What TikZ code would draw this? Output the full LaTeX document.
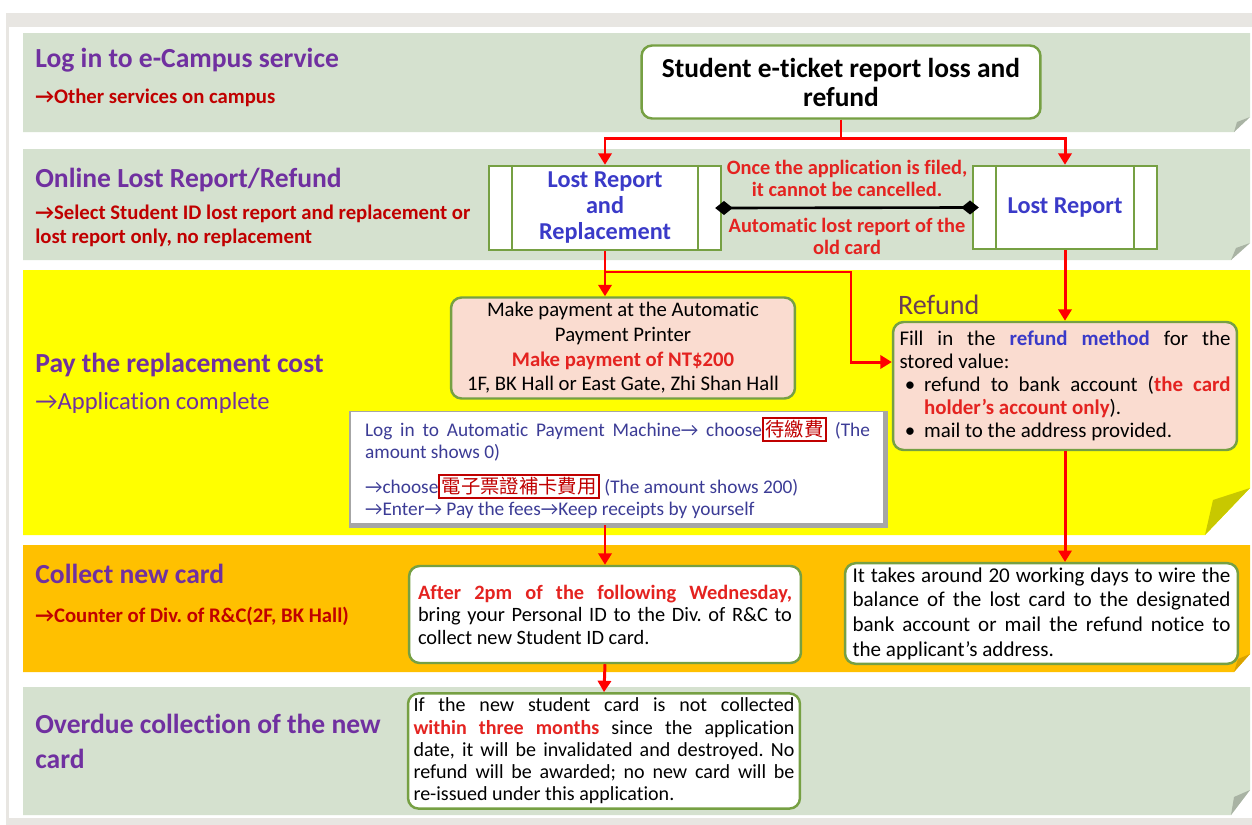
\documentclass[tikz,border=0pt]{standalone}
\usepackage{fontspec}
\setmainfont{Carlito}[Ligatures={TeX,NoCommon}]
\newfontfamily\cjkfont{Noto Sans CJK TC}
\usetikzlibrary{positioning, arrows.meta}
\frenchspacing

\definecolor{pagegray}{HTML}{E8E6E2}
\definecolor{bandgreen}{HTML}{D5E1CF}
\definecolor{foldgreen}{HTML}{A9B3A4}
\definecolor{bandyellow}{HTML}{FFFF00}
\definecolor{foldyellow}{HTML}{C8C800}
\definecolor{bandorange}{HTML}{FFC000}
\definecolor{foldorange}{HTML}{D9A300}
\definecolor{titlepurple}{HTML}{7030A0}
\definecolor{notered}{HTML}{C00000}
\definecolor{alertred}{HTML}{E42320}
\definecolor{flowred}{HTML}{FF0000}
\definecolor{reportblue}{HTML}{3A3AC8}
\definecolor{guideblue}{HTML}{3C3C96}
\definecolor{boxgreen}{HTML}{76A043}
\definecolor{peach}{HTML}{FADCD0}
\definecolor{bevelgray}{HTML}{A6A6A6}
\definecolor{refundbrown}{HTML}{6A3D55}

\setlength{\fboxsep}{1pt}
\setlength{\fboxrule}{1pt}
\newcommand{\cjkword}[1]{\fcolorbox{notered}{white}{\cjkfont\color{notered}#1}}

\tikzset{
x=0.02cm, y=-0.02cm, % one unit is one pixel of the slide
flow/.style={draw=flowred, line width=1.7pt, -{Triangle[width=7.5pt,length=6.5pt]}}, % red arrows
roundbox/.style={draw=boxgreen, line width=1.4pt, rounded corners=6pt, fill=white, inner sep=2.5pt}, % step boxes
procbox/.style={draw=boxgreen, line width=1.4pt, fill=white, text=reportblue, align=center,
  font=\bfseries\fontsize{13.8}{14.8}\selectfont}, % lost report choices
bandtitle/.style={anchor=base west, inner xsep=0pt, text=titlepurple, align=left, font=\bfseries\fontsize{15.7}{19.4}\selectfont},
bandnote/.style={anchor=base west, inner xsep=0pt, text=notered, align=left, font=\bfseries\fontsize{11.8}{13.1}\selectfont},
alertlabel/.style={text=alertred, align=center, font=\bfseries\fontsize{11.6}{12.6}\selectfont},
}

\begin{document}
\begin{tikzpicture}
    \useasboundingbox (0,0) rectangle (1252,825);
    \fill[pagegray] (6,13) rectangle (1252,825);
    \fill[white] (9,27) rectangle (1252,818);

    % bands with folded corners
    \fill[bandgreen] (23,33) -- (1250,33) -- (1250,117) -- (1234,132) -- (23,132) -- cycle;
    \fill[foldgreen] (1250,117) -- (1237,122) -- (1234,132) -- cycle;
    \fill[bandgreen] (23,149) -- (1250,149) -- (1250,243) -- (1231,260) -- (23,260) -- cycle;
    \fill[foldgreen] (1250,243) -- (1236,248) -- (1231,260) -- cycle;
    \fill[bandyellow] (23,270) -- (1250,270) -- (1250,488) -- (1205,535) -- (23,535) -- cycle;
    \fill[foldyellow] (1250,488) -- (1213,500) -- (1205,535) -- cycle;
    \fill[bandorange] (23,545) -- (1250,545) -- (1250,654) -- (1234,672) -- (23,672) -- cycle;
    \fill[foldorange] (1250,654) -- (1238,659) -- (1234,672) -- cycle;
    \fill[bandgreen] (23,687) -- (1250,687) -- (1250,790) -- (1231,815) -- (23,815) -- cycle;
    \fill[foldgreen] (1250,790) -- (1234,797) -- (1231,815) -- cycle;

    % band headings
    \node[bandtitle] (logtitle) at (35,67) {Log in to e-Campus service};
    \node[bandnote] (lognote) at (35,103) {→Other services on campus};
    \node[bandtitle] (onlinetitle) at (35,187) {Online Lost Report/Refund};
    \node[bandnote] (onlinenote) at (35,243) {→Select Student ID lost report and replacement or\\lost report only, no replacement};
    \node[bandtitle] (paytitle) at (35,372) {Pay the replacement cost};
    \node[anchor=base west, inner xsep=0pt, text=titlepurple, font=\fontsize{14}{16}\selectfont] (paynote) at (35,409) {→Application complete};
    \node[bandtitle] (collecttitle) at (35,583) {Collect new card};
    \node[bandnote] (collectnote) at (35,622) {→Counter of Div. of R\&C(2F, BK Hall)};
    \node[bandtitle] (overduetitle) at (35,768) {Overdue collection of the new\\card};

    % steps
    \node[roundbox, align=center, minimum width=7.98cm, minimum height=1.46cm,
      font=\bfseries\fontsize{15.6}{16.5}\selectfont] (title) at (841,82) {Student e-ticket report loss and\\refund};
    \node[procbox, minimum width=4.64cm, minimum height=1.68cm] (lrr) at (605,208) {Lost Report\\and\\Replacement};
    \node[procbox, minimum width=3.68cm, minimum height=1.66cm] (lr) at (1065,207.5) {Lost Report};
    \foreach \proc in {lrr, lr} {
        \draw[boxgreen, line width=1.4pt] ([xshift=0.48cm]\proc.north west) -- ([xshift=0.48cm]\proc.south west)
            ([xshift=-0.48cm]\proc.north east) -- ([xshift=-0.48cm]\proc.south east);
    }
    \node[roundbox, fill=peach, align=center, minimum width=6.88cm, minimum height=2.02cm,
      font=\fontsize{11.8}{14}\selectfont] (pay) at (623,348)
      {Make payment at the Automatic\\Payment Printer\\\textcolor{alertred}{\textbf{Make payment of NT\$200}}\\1F, BK Hall or East Gate, Zhi Shan Hall};
    \node[draw=bevelgray, fill=white, line width=0.8pt, text=guideblue, align=justify,
      minimum width=10.7cm, minimum height=2.2cm, text width=10.1cm, font=\fontsize{11}{12.5}\selectfont] (guide) at (617.5,468)
      {Log in to Automatic Payment Machine→ choose\cjkword{待繳費} (The\linebreak amount shows 0)\par\vspace{6pt}
       →choose\cjkword{電子票證補卡費用} (The amount shows 200)\par
       →Enter→ Pay the fees→Keep receipts by yourself};
    \draw[bevelgray, line width=3pt] (guide.north east) -- (guide.south east) -- (guide.south west);
    \node[roundbox, fill=peach, align=justify, minimum width=6.88cm, minimum height=2.56cm, text width=6.62cm,
      font=\fontsize{11.9}{13}\selectfont] (refund) at (1065,386)
      {Fill in the \textcolor{reportblue}{\textbf{refund method}} for the\linebreak stored value:\par
       \noindent\hangindent=14pt\hangafter=1\makebox[14pt][l]{\hspace{3pt}\textbullet}refund to bank account (\textcolor{alertred}{\textbf{the card holder's account only}}).\par
       \noindent\hangindent=14pt\hangafter=1\makebox[14pt][l]{\hspace{3pt}\textbullet}mail to the address provided.};
    \node[above right=0pt and 0pt of refund.north west, text=refundbrown, font=\fontsize{16}{18}\selectfont] (refundlabel) {Refund};
    \node[roundbox, align=justify, minimum width=7.84cm, minimum height=1.94cm, text width=7.48cm,
      font=\fontsize{11.6}{12.8}\selectfont] (collect) at (605,614.5)
      {\textcolor{alertred}{\textbf{After 2pm of the following Wednesday,}}\linebreak bring your Personal ID to the Div. of R\&C to\linebreak collect new Student ID card.};
    \node[roundbox, align=justify, minimum width=7.86cm, minimum height=1.94cm, text width=7.56cm,
      font=\fontsize{12}{14}\selectfont] (wire) at (1041.5,613.5)
      {It takes around 20 working days to wire the\linebreak balance of the lost card to the designated\linebreak bank account or mail the refund notice to\linebreak the applicant's address.};
    \node[roundbox, align=justify, minimum width=7.84cm, minimum height=2.24cm, text width=7.62cm,
      font=\fontsize{11.4}{12.7}\selectfont] (overdue) at (604,751)
      {If the new student card is not collected\linebreak \textcolor{alertred}{\textbf{within three months}} since the application\linebreak date, it will be invalidated and destroyed. No\linebreak refund will be awarded; no new card will be\linebreak re-issued under this application.};

    % connectors
    \draw[flow] (title.south) -- ++(0,19) -| (lrr.north);
    \draw[flow] (title.south) -- ++(0,19) -| (lr.north);
    \draw[{Diamond[width=8pt,length=10pt]}-{Diamond[width=8pt,length=10pt]}, line width=1.5pt,
      shorten <=-4pt, shorten >=-4pt] (lrr.east) -- (lr.west)
      node[midway, above=2pt, alertlabel] {Once the application is filed,\\it cannot be cancelled.}
      node[midway, below=2pt, alertlabel] {Automatic lost report of the\\old card};
    \draw[flow] (lrr.south) -- (lrr.south |- pay.north);
    \draw[flow] (lrr.south) |- (851,272) |- ([yshift=0.48cm]refund.west);
    \draw[flow] (lr.south) -- (refund.north);
    \draw[flow] (guide.south -| collect.north) -- (collect.north);
    \draw[flow] (refund.south) -- (refund.south |- wire.north);
    \draw[flow] (collect.south) -- (overdue.north);
\end{tikzpicture}
\end{document}
